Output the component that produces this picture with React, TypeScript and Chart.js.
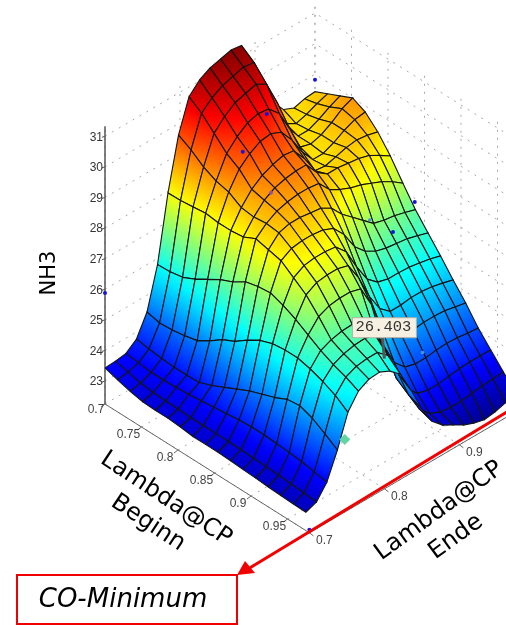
import React, { useEffect, useRef } from "react";
import { Chart, registerables } from "chart.js";

Chart.register(...registerables);

// Lambda@CP Beginn grid (rows), Lambda@CP Ende grid (columns)
const beginStart = 0.7;
const beginStep = 0.0172;
const endStart = 0.7;
const endStep = 0.014;

// NH3 surface, one row per Lambda@CP Beginn, one value per Lambda@CP Ende
const nh3Row00 = [23.43,23.45,23.5,23.77,24.45,25.8,27.94,29.63,30.68,31.03,31.22,31.31,31.4,31.35,30.6,29.6,28.9,28.45,28.3,28.4,28.43];
const nh3Row01 = [23.3,23.35,23.45,23.7,24.35,25.82,27.95,29.4,30.4,30.7,30.9,31.0,31.1,31.05,30.2,29.2,28.45,28.25,28.35,28.5,28.62];
const nh3Row02 = [23.18,23.25,23.4,23.65,24.38,25.9,28.0,29.1,30.0,30.35,30.6,30.7,30.8,30.6,29.8,28.8,28.3,28.3,28.45,28.65,28.81];
const nh3Row03 = [23.1,23.2,23.4,23.62,24.45,26.1,28.05,28.9,29.6,29.95,30.2,30.3,30.25,29.9,29.2,28.4,28.3,28.4,28.6,28.85,29.0];
const nh3Row04 = [23.08,23.18,23.42,23.62,24.55,26.35,28.0,28.8,29.35,29.65,29.85,29.9,29.75,29.3,28.7,28.25,28.25,28.4,28.6,28.75,28.8];
const nh3Row05 = [23.08,23.17,23.45,23.64,24.8,26.6,28.0,28.55,28.95,29.2,29.35,29.45,29.4,28.95,28.35,28.3,28.4,28.5,28.55,28.5,28.41];
const nh3Row06 = [23.05,23.15,23.5,23.8,25.1,26.78,28.05,28.5,28.85,29.05,29.15,29.2,29.2,28.75,28.5,28.5,28.45,28.4,28.3,28.1,27.88];
const nh3Row07 = [23.0,23.15,23.55,24.0,25.3,27.05,28.25,28.55,28.75,28.85,28.9,28.9,28.85,28.45,28.25,28.1,28.0,27.85,27.7,27.5,27.25];
const nh3Row08 = [23.0,23.15,23.6,24.2,25.6,27.15,28.15,28.5,28.6,28.6,28.55,28.5,28.3,27.9,27.6,27.3,27.0,26.9,26.85,26.75,26.64];
const nh3Row09 = [23.0,23.15,23.65,24.4,25.85,27.2,28.05,28.25,28.3,28.3,28.25,28.1,27.7,27.1,26.75,26.55,26.45,26.4,26.35,26.25,26.14];
const nh3Row10 = [22.98,23.14,23.68,24.55,26.0,27.05,27.75,27.95,28.0,28.0,27.95,27.6,26.9,26.3,26.0,25.9,25.9,25.88,25.82,25.75,25.65];
const nh3Row11 = [22.95,23.12,23.68,24.7,26.05,26.85,27.45,27.65,27.7,27.7,27.6,27.0,26.2,25.6,25.3,25.3,25.35,25.35,25.3,25.22,25.12];
const nh3Row12 = [22.93,23.1,23.65,24.9,26.05,26.6,27.0,27.15,27.2,27.2,27.1,26.4,25.4,24.9,24.7,24.75,24.8,24.8,24.78,24.7,24.63];
const nh3Row13 = [22.9,23.08,23.62,24.95,25.95,26.35,26.5,26.58,26.6,26.6,26.1,25.3,24.55,24.2,24.1,24.1,24.15,24.17,24.15,24.1,24.07];
const nh3Row14 = [22.88,23.05,23.58,24.8,25.8,26.15,26.3,26.38,26.4,26.3,25.6,24.5,23.95,23.6,23.5,23.5,23.55,23.6,23.62,23.62,23.61];
const nh3Row15 = [22.86,23.02,23.5,24.55,25.6,26.0,26.15,26.2,26.2,25.9,25.1,24.2,23.55,23.2,23.05,23.0,23.0,23.05,23.1,23.12,23.15];
const nh3Row16 = [22.85,22.98,23.43,24.28,25.31,25.8,25.99,26.02,25.85,25.55,24.83,24.04,23.41,23.08,22.88,22.68,22.54,22.45,22.5,22.6,22.72];
const nh3Rows = [nh3Row00,nh3Row01,nh3Row02,nh3Row03,nh3Row04,nh3Row05,nh3Row06,nh3Row07,nh3Row08,nh3Row09,nh3Row10,nh3Row11,nh3Row12,nh3Row13,nh3Row14,nh3Row15,nh3Row16];

// Axes
const nh3Ticks = [23,24,25,26,27,28,29,30,31];
const beginTicks = [0.7,0.75,0.8,0.85,0.9,0.95];
const beginTickLabels = ["0.7","0.75","0.8","0.85","0.9","0.95"];
const endTicks = [0.7,0.8,0.9];
const endTickLabels = ["0.7","0.8","0.9"];
const beginMax = 0.98;
const endMax = 0.98;
const nh3Floor = 22.25;
const nh3Top = 31.33;
const colorMin = 22.3;
const colorMax = 31.45;

// Measured points [Beginn, Ende, NH3]
const measuredStrong = [[0.75,0.835,29.3],[0.75,0.867,30.08],[0.85,0.967,27.27],[0.85,0.938,26.7],[0.7,0.7,25.88],[0.7,0.98,28.82],[0.98,0.7,22.35]];
const measuredPurple = [[0.8,0.824,28.87]];
const measuredFaint = [[0.85,0.907,27.54],[0.95,0.88,25.1]];
const minimumMarker = [[0.9,0.825,22.3]];
const readoutValue = 26.403;
const readoutAt = [0.98,0.8];

// Camera of the plot, in page pixels (the hidden x and y scales run 1:1 with the canvas)
const originX = 105, originY = 404;
const pxPerBeginX = 730, pxPerBeginY = 460;
const pxPerEndX = 750, pxPerEndY = 440;
const pxPerNh3 = 30.6;

function project(b: number, e: number, z: number) {
  return {
    x: originX + (b - 0.7) * pxPerBeginX + (e - 0.7) * pxPerEndX,
    y: originY + (b - 0.7) * pxPerBeginY - (e - 0.7) * pxPerEndY - (z - nh3Floor) * pxPerNh3,
  };
}

function jet(z: number) {
  const t = Math.max(0, Math.min(1, (z - colorMin) / (colorMax - colorMin)));
  const c = (v: number) => Math.round(255 * Math.max(0, Math.min(1, v)));
  const r = 1.5 - Math.abs(4 * t - 3);
  const g = 1.5 - Math.abs(4 * t - 2);
  const bl = 1.5 - Math.abs(4 * t - 1);
  return `rgb(${c(r)},${c(g)},${c(bl)})`;
}

function quadFill(corners: { x: number; y: number }[], zs: number[]) {
  return (context: any) => {
    const chart = context.chart;
    const pts = corners;
    const cx = pts.reduce((s, p) => s + p.x, 0) / 4;
    const cy = pts.reduce((s, p) => s + p.y, 0) / 4;
    const cz = zs.reduce((s, v) => s + v, 0) / 4;
    let xx = 0, xy = 0, yy = 0, xz = 0, yz = 0;
    pts.forEach((p, k) => {
      const dx = p.x - cx, dy = p.y - cy, dz = zs[k] - cz;
      xx += dx * dx; xy += dx * dy; yy += dy * dy; xz += dx * dz; yz += dy * dz;
    });
    const det = xx * yy - xy * xy;
    const zMin = Math.min(...zs), zMax = Math.max(...zs);
    if (Math.abs(det) < 1 || zMax - zMin < 0.001) return jet(cz);
    const a = (yy * xz - xy * yz) / det;
    const b = (xx * yz - xy * xz) / det;
    const m2 = a * a + b * b;
    if (m2 < 1e-8) return jet(cz);
    const g = chart.ctx.createLinearGradient(
      cx - (a * (cz - zMin)) / m2, cy - (b * (cz - zMin)) / m2,
      cx + (a * (zMax - cz)) / m2, cy + (b * (zMax - cz)) / m2
    );
    for (let s = 0; s <= 4; s++) g.addColorStop(s / 4, jet(zMin + ((zMax - zMin) * s) / 4));
    return g;
  };
}

function segment(points: { x: number; y: number }[], color: string, width: number, dash: number[] = []) {
  return {
    data: points, showLine: true, fill: false, borderColor: color, borderWidth: width,
    borderDash: dash, pointRadius: 0, tension: 0,
  };
}

function buildDatasets() {
  const paint: any[] = [];
  const dotted = "#a8a8a8";
  const dash = [2, 6];
  // walls and floor
  nh3Ticks.forEach((z) => {
    paint.push(segment([project(0.7, 0.7, z), project(0.7, endMax, z), project(beginMax, endMax, z)], dotted, 1, dash));
  });
  [...endTicks, endMax].forEach((e) => {
    paint.push(segment([project(0.7, e, nh3Floor), project(0.7, e, nh3Top)], dotted, 1, dash));
    paint.push(segment([project(0.7, e, nh3Floor), project(beginMax, e, nh3Floor)], dotted, 1, dash));
  });
  [...beginTicks, beginMax].forEach((b) => {
    paint.push(segment([project(b, endMax, nh3Floor), project(b, endMax, nh3Top)], dotted, 1, dash));
    paint.push(segment([project(b, endStart, nh3Floor), project(b, endMax, nh3Floor)], dotted, 1, dash));
  });
  // axes
  paint.push(segment([project(0.7, 0.7, nh3Top), project(0.7, 0.7, nh3Floor)], "#555", 1.5));
  paint.push(segment([project(0.7, 0.7, nh3Floor), project(beginMax, 0.7, nh3Floor)], "#666", 1));
  paint.push(segment([project(beginMax, 0.7, nh3Floor), project(beginMax, endMax, nh3Floor)], "#666", 1));
  nh3Ticks.forEach((z) => {
    const p = project(0.7, 0.7, z);
    paint.push(segment([p, { x: p.x - 3, y: p.y + 1 }], "#555", 1));
  });
  beginTicks.forEach((b) => {
    const p = project(b, 0.7, nh3Floor);
    paint.push(segment([p, { x: p.x - 4, y: p.y + 3 }], "#666", 1));
  });
  endTicks.forEach((e) => {
    const p = project(beginMax, e, nh3Floor);
    paint.push(segment([p, { x: p.x + 4, y: p.y + 3 }], "#666", 1));
  });
  // surface, far to near
  for (let i = 0; i < nh3Rows.length - 1; i++) {
    for (let j = nh3Rows[i].length - 2; j >= 0; j--) {
      const b0 = beginStart + i * beginStep, b1 = beginStart + (i + 1) * beginStep;
      const e0 = endStart + j * endStep, e1 = endStart + (j + 1) * endStep;
      const zs = [nh3Rows[i][j], nh3Rows[i][j + 1], nh3Rows[i + 1][j + 1], nh3Rows[i + 1][j]];
      const corners = [project(b0, e0, zs[0]), project(b0, e1, zs[1]), project(b1, e1, zs[2]), project(b1, e0, zs[3])];
      paint.push({
        data: [...corners, corners[0]], showLine: true, fill: "shape",
        backgroundColor: quadFill(corners, zs), borderColor: "#141414", borderWidth: 1.1,
        pointRadius: 0, tension: 0,
      });
    }
  }
  // measured points
  const pts = (list: number[][], color: string, radius: number, style = "circle") => ({
    data: list.map((p) => project(p[0], p[1], p[2])), showLine: false,
    pointRadius: radius, pointBackgroundColor: color, pointBorderWidth: 0, pointStyle: style,
  });
  paint.push(pts(measuredFaint, "#4f8fd8", 1.8));
  paint.push(pts(measuredPurple, "#8a50b0", 2));
  paint.push(pts(measuredStrong, "#1414e0", 2));
  paint.push(pts(minimumMarker, "#62d3a2", 5.5, "rectRot"));
  // readout pointer
  const tip = project(readoutAt[0], readoutAt[1], readoutValue);
  paint.push(segment([{ x: tip.x - 2, y: tip.y - 24 }, { x: tip.x, y: tip.y - 3 }], "#555", 3));
  // red arrow
  paint.push(segment([{ x: 520, y: 404 }, { x: 248, y: 569 }], "#f20000", 3));
  return paint.reverse();
}

const overlay = {
  id: "overlay",
  afterDatasetsDraw(chart: any) {
    const ctx: CanvasRenderingContext2D = chart.ctx;
    const at = (p: { x: number; y: number }) => ({
      x: chart.scales.x.getPixelForValue(p.x), y: chart.scales.y.getPixelForValue(p.y),
    });
    ctx.save();
    const text = (s: string, x: number, y: number, font: string, color: string, align: CanvasTextAlign = "center", angle = 0) => {
      ctx.save();
      ctx.translate(x, y);
      ctx.rotate((angle * Math.PI) / 180);
      ctx.font = font;
      ctx.fillStyle = color;
      ctx.textAlign = align;
      ctx.textBaseline = "middle";
      ctx.fillText(s, 0, 0);
      ctx.restore();
    };
    const tickFont = '12px "Liberation Sans"';
    nh3Ticks.forEach((z) => {
      const p = at(project(0.7, 0.7, z));
      text(String(z), p.x - 2, p.y + 1, tickFont, "#333", "right");
    });
    beginTicks.forEach((b, k) => {
      const p = at(project(b, 0.7, nh3Floor));
      const left = k === 0 ? 9 : 13;
      text(beginTickLabels[k], p.x - left, p.y + (k === 0 ? 6 : 8), tickFont, "#444");
    });
    endTicks.forEach((e, k) => {
      const p = at(project(beginMax, e, nh3Floor));
      text(endTickLabels[k], p.x + 15, p.y + 8, tickFont, "#444");
    });
    const title = '24px "DejaVu Sans"';
    text("NH3", 50, 273, '21px "DejaVu Sans"', "#000", "center", -90);
    text("Lambda@CP", 166, 499, title, "#000", "center", 33.5);
    text("Beginn", 148, 523, title, "#000", "center", 33.5);
    text("Lambda@CP", 439, 511, title, "#000", "center", -36);
    text("Ende", 456, 537, title, "#000", "center", -36);

    // readout box
    const tip = at(project(readoutAt[0], readoutAt[1], readoutValue));
    const bx = tip.x - 32, by = tip.y - 44;
    ctx.fillStyle = "#f6f0e2";
    ctx.strokeStyle = "#b5b0a5";
    ctx.lineWidth = 1;
    ctx.fillRect(bx, by, 64, 20);
    ctx.strokeRect(bx, by, 64, 20);
    text(readoutValue.toFixed(3), bx + 31, by + 9, '15.5px "Liberation Mono"', "#333");
    // arrow head
    ctx.beginPath();
    ctx.moveTo(237, 575);
    ctx.lineTo(255, 573);
    ctx.lineTo(245, 561);
    ctx.closePath();
    ctx.fillStyle = "#f20000";
    ctx.fill();
    // box
    ctx.strokeStyle = "#f20000";
    ctx.lineWidth = 2;
    ctx.strokeRect(17, 575, 220, 49);
    text("CO-Minimum", 123, 600, 'italic 26px "DejaVu Sans"', "#000");
    ctx.restore();
  },
};

export default function App() {
  const ref = useRef<HTMLCanvasElement>(null);
  useEffect(() => {
    const chart = new Chart(ref.current as HTMLCanvasElement, {
      type: "scatter",
      data: { datasets: buildDatasets() },
      options: {
        responsive: false,
        animation: false,
        events: [],
        layout: { padding: 0, autoPadding: false },
        plugins: { legend: { display: false }, tooltip: { enabled: false } },
        scales: {
          x: { type: "linear", display: false, min: 0, max: 506 },
          y: { type: "linear", display: false, min: 0, max: 625, reverse: true },
        },
      },
      plugins: [overlay],
    } as any);
    return () => chart.destroy();
  }, []);
  return (
    <div style={{ position: "absolute", left: 0, top: 0, width: 506, height: 625, overflow: "hidden", background: "#fff" }}>
      <canvas ref={ref} width={506} height={625} style={{ display: "block", filter: "blur(0.35px)" }} />
    </div>
  );
}
